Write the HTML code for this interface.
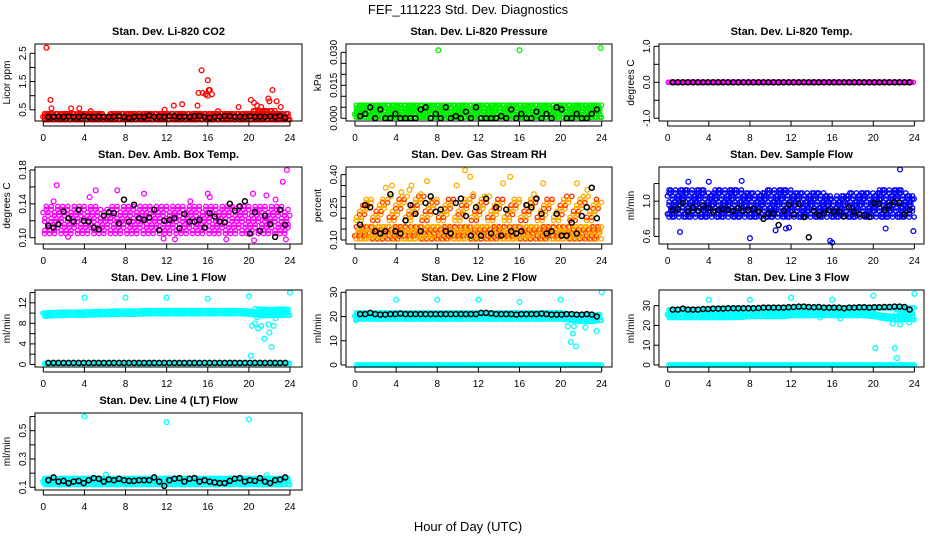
<!DOCTYPE html>
<html><head><meta charset="utf-8">
<style>
body{margin:0;background:#fff;}
svg{display:block;font-family:"Liberation Sans",sans-serif;}
</style></head>
<body>
<svg id="chart" width="936" height="540" viewBox="0 0 936 540" xmlns="http://www.w3.org/2000/svg">
<text x="468" y="14" text-anchor="middle" font-size="13">FEF_111223  Std. Dev. Diagnostics</text>
<text x="468" y="531" text-anchor="middle" font-size="13">Hour of Day (UTC)</text>
</svg>
<script>
// ---- data arrays ----
const hours = [0,1,2,3,4,5,6,7,8,9,10,11,12,13,14,15,16,17,18,19,20,21,22,23,24];
const xTicks = [0,4,8,12,16,20,24];

const co2Lo = [0.15,0.15,0.15,0.15,0.15,0.15,0.15,0.15,0.15,0.15,0.15,0.15,0.15,0.15,0.15,0.15,0.15,0.15,0.15,0.15,0.15,0.15,0.15,0.15,0.15];
const co2Hi = [0.4,0.45,0.4,0.45,0.4,0.4,0.35,0.4,0.4,0.4,0.4,0.4,0.45,0.45,0.4,0.45,0.45,0.4,0.4,0.4,0.45,0.5,0.5,0.45,0.35];
const co2OutX = [0.3,0.7,0.8,2.7,3.5,4.6,12.7,13.5,15.0,15.1,15.5,15.4,15.8,16.0,16.0,16.2,16.4,16.1,19.0,20.2,20.5,20.8,21.2,21.9,22.0,22.3,22.7,23.1,17.0,11.8];
const co2OutY = [2.7,0.85,0.55,0.55,0.55,0.45,0.65,0.7,0.65,1.1,1.1,1.9,1.05,1.0,1.55,1.2,1.05,1.2,0.6,0.85,0.75,0.65,0.6,0.9,0.8,1.2,0.8,0.6,0.45,0.5];
const co2Black = [0.25,0.25,0.26,0.25,0.26,0.25,0.25,0.27,0.25,0.25,0.26,0.25,0.25,0.26,0.27,0.25,0.22,0.25,0.26,0.25,0.3,0.25,0.26,0.25,0.28,0.27,0.25,0.26,0.25,0.27,0.28,0.25,0.22,0.25,0.26,0.28,0.27,0.25,0.26,0.25,0.27,0.25,0.26,0.25,0.27,0.25,0.28,0.22];

const presLo = [0.0005,0.0005,0.0005,0.0005,0.0005,0.0005,0.0005,0.0005,0.0005,0.0005,0.0005,0.0005,0.0005,0.0005,0.0005,0.0005,0.0005,0.0005,0.0005,0.0005,0.0005,0.0005,0.0005,0.0005,0.0005];
const presHi = [0.0065,0.007,0.0068,0.0072,0.007,0.0068,0.0068,0.007,0.0072,0.0068,0.0068,0.007,0.007,0.0068,0.0068,0.0068,0.0068,0.0066,0.0068,0.007,0.0068,0.0068,0.0066,0.0066,0.006];
const presOutX = [8.1,16.0,23.9];
const presOutY = [0.031,0.031,0.032];
const presBlack = [0.001,0.002,0.005,0.0,0.004,0.0,0.0,0.002,0.0,0.0,0.0,0.0,0.004,0.005,0.0,0.002,0.0,0.005,0.0,0.001,0.0,0.003,0.0,0.005,0.0,0.0,0.0,0.0,0.001,0.0,0.004,0.0,0.002,0.0,0.0,0.003,0.0,0.002,0.0,0.005,0.004,0.0,0.0,0.002,0.0,0.0,0.002,0.004];

const tempLo = hours.map(()=>0);
const tempHi = hours.map(()=>0);
const tempBlack = [0,0,0,0,0,0,0,0,0,0,0,0,0,0,0,0,0,0,0,0,0,0,0,0,0,0,0,0,0,0,0,0,0,0,0,0,0,0,0,0,0,0,0,0,0,0,0,0];

const boxLo = [0.105,0.105,0.105,0.105,0.105,0.105,0.105,0.105,0.105,0.105,0.105,0.105,0.105,0.105,0.105,0.105,0.105,0.105,0.105,0.105,0.105,0.105,0.105,0.105,0.105];
const boxHi = [0.135,0.14,0.14,0.14,0.14,0.14,0.135,0.14,0.14,0.14,0.138,0.14,0.14,0.14,0.14,0.138,0.14,0.138,0.14,0.14,0.14,0.14,0.138,0.14,0.135];
const boxOutX = [1.3,5.1,7.2,9.8,16.0,20.4,23.3,23.7,21.7,22.6,17.8,12.8,11.7,20.5,23.6,2.4,14.3,1.0,4.5,16.2];
const boxOutY = [0.162,0.156,0.156,0.152,0.152,0.152,0.166,0.180,0.150,0.145,0.098,0.098,0.099,0.097,0.098,0.101,0.143,0.143,0.148,0.148];
const boxBlack = [0.114,0.112,0.116,0.131,0.123,0.119,0.133,0.120,0.119,0.112,0.110,0.126,0.130,0.129,0.117,0.145,0.119,0.139,0.123,0.121,0.124,0.133,0.109,0.120,0.121,0.123,0.111,0.128,0.119,0.119,0.121,0.112,0.129,0.125,0.119,0.118,0.140,0.132,0.137,0.143,0.105,0.130,0.108,0.126,0.116,0.101,0.133,0.115];

const rhLo = [0.105,0.105,0.105,0.105,0.105,0.105,0.105,0.105,0.105,0.105,0.105,0.105,0.105,0.105,0.105,0.105,0.105,0.105,0.105,0.105,0.105,0.105,0.105,0.105,0.105];
const rhHi = [0.16,0.16,0.16,0.16,0.16,0.16,0.16,0.16,0.16,0.16,0.16,0.16,0.16,0.16,0.16,0.16,0.16,0.16,0.16,0.16,0.16,0.16,0.16,0.16,0.16];
const rhUpLo = [0.19,0.19,0.19,0.19,0.19,0.19,0.19,0.19,0.19,0.19,0.19,0.19,0.19,0.19,0.19,0.19,0.19,0.19,0.19,0.19,0.19,0.19,0.19,0.19,0.19];
const rhUpHi = [0.28,0.29,0.29,0.3,0.3,0.31,0.3,0.3,0.29,0.3,0.29,0.3,0.3,0.3,0.3,0.29,0.29,0.29,0.3,0.29,0.3,0.3,0.3,0.3,0.28];
const rhOutX = [3.0,3.6,5.3,5.5,6.4,7.0,9.9,10.7,11.2,11.5,14.4,15.1,17.4,18.3,21.6,22.6,23.0,4.5];
const rhOutY = [0.34,0.35,0.33,0.35,0.31,0.37,0.35,0.42,0.39,0.31,0.36,0.39,0.31,0.36,0.36,0.33,0.34,0.32];
const rhBlack = [0.17,0.26,0.25,0.14,0.13,0.14,0.31,0.14,0.13,0.19,0.26,0.22,0.14,0.27,0.30,0.23,0.24,0.14,0.13,0.27,0.29,0.21,0.12,0.25,0.12,0.29,0.13,0.25,0.12,0.24,0.14,0.13,0.14,0.26,0.25,0.29,0.22,0.13,0.14,0.22,0.12,0.12,0.18,0.13,0.21,0.25,0.34,0.20];

const flowLo = [0.82,0.82,0.82,0.82,0.82,0.82,0.82,0.82,0.82,0.82,0.82,0.82,0.82,0.82,0.82,0.82,0.82,0.82,0.82,0.82,0.82,0.82,0.82,0.82,0.82];
const flowHi = [1.12,1.15,1.14,1.15,1.12,1.13,1.14,1.15,1.10,1.12,1.13,1.14,1.15,1.10,1.12,1.12,1.05,1.08,1.10,1.12,1.10,1.14,1.14,1.13,1.05];
const flowOutX = [1.2,8.0,10.5,11.5,11.8,15.8,16.0,21.2,23.9,22.6,2.0,4.0,7.2];
const flowOutY = [0.65,0.58,0.67,0.69,0.70,0.55,0.53,0.69,0.66,1.36,1.22,1.22,1.23];
const flowBlack = [0.90,0.91,0.98,0.88,0.93,0.89,0.95,0.92,0.88,0.90,0.91,0.90,0.89,0.92,0.89,0.90,0.91,0.88,0.80,0.86,0.86,0.73,0.89,0.96,0.85,0.97,0.82,0.59,0.89,0.84,0.86,0.90,0.88,0.88,0.83,0.93,0.88,0.85,0.84,0.82,0.98,0.97,0.90,0.95,0.99,0.98,0.85,0.90];

const l1Lo = [9.4,9.5,9.6,9.6,9.6,9.7,9.7,9.8,9.8,9.8,9.9,9.9,9.9,9.9,9.9,9.9,9.9,9.9,9.9,9.9,9.8,9.6,9.5,9.6,9.6];
const l1Hi = [10.2,10.3,10.4,10.5,10.5,10.6,10.6,10.7,10.7,10.7,10.8,10.8,10.8,10.8,10.8,10.8,10.8,10.8,10.8,10.8,10.9,10.8,10.8,10.9,10.7];
const l1OutX = [4,8,12,16,20,24,20.3,20.6,20.9,21.2,21.5,21.9,22.0,22.2,22.4,20.2,22.6,20.8,21.3];
const l1OutY = [13,13,13,12.8,13.3,14,7.5,8,7,7.5,5,7.8,6.2,3.4,7.5,1.7,9,9.2,9.5];
const l1Black = [0.3,0.3,0.3,0.3,0.3,0.3,0.3,0.3,0.3,0.3,0.3,0.3,0.3,0.3,0.3,0.3,0.3,0.3,0.3,0.3,0.3,0.3,0.3,0.3,0.3,0.3,0.3,0.3,0.3,0.3,0.3,0.3,0.3,0.3,0.3,0.3,0.3,0.3,0.3,0.3,0.3,0.3,0.3,0.3,0.3,0.3,0.3,0.3];
const l1ZeroLo = hours.map(()=>0.2);
const l1ZeroHi = hours.map(()=>0.5);

const l2Lo = [19.0,19.0,19.0,19.0,19.0,19.0,19.0,19.0,19.0,19.0,19.0,19.0,19.0,19.0,19.0,19.0,19.0,19.0,19.0,19.0,19.0,18.5,18.0,18.0,18.5];
const l2Hi = [21.5,21.8,21.8,21.8,21.8,21.8,21.8,21.8,21.8,21.8,21.8,21.8,22.0,22.0,22.0,21.8,21.8,21.8,21.8,21.8,21.8,21.5,21.5,21.5,21.5];
const l2OutX = [4,8,12,16,20,24,20.7,21.0,21.2,21.3,21.5,22.4,23.5,0.1];
const l2OutY = [27,27,27,26,27,30,16,9.5,13,16,7.7,15.5,14,18.5];
const l2Black = [21,21,21.5,21,20.8,20.8,21,21,21.2,21,21,21,21,21,21,21,21,21,21,21,21,21,21,21,21.5,21.5,21.3,21,21,21,21,20.8,21,21,21,21,21.2,21,20.8,20.8,20.8,21,21,20.8,20.8,21,20.8,20];
const zeroLo = hours.map(()=>0.0);
const zeroHi = hours.map(()=>0.8);

const l3Lo = [24,24,24,24,24,24,24,24.2,24.5,24.5,24.5,24.5,25,25,25,25,25,25,25,25,24.5,23.5,23,23,23];
const l3Hi = [25.5,25.6,25.6,25.6,25.8,25.8,25.8,26,26,26,26.2,26.2,26.5,26.5,26.5,26.5,26.5,26.5,26.5,26.5,26,25.5,26,27,27];
const l3UpLo = [27.8,28,28,28,28.2,28.2,28.2,28.4,28.4,28.4,28.6,28.6,28.8,28.8,28.8,28.8,28.8,28.8,28.8,28.8,28.8,28.8,28.8,28.8,28.8];
const l3UpHi = [29.2,29.4,29.4,29.4,29.6,29.6,29.6,29.8,29.8,29.8,30,30,30.2,30.2,30.2,30.2,30.2,30.2,30.2,30.2,30.2,30.2,30.2,30.2,30.2];
const l3OutX = [4,8,12,16,20,24,20.2,22.1,22.3,21.9,22.6,23.5,16.8,14.8];
const l3OutY = [33,33,34,33,35,36,8.5,8.5,3.5,21,20.5,21.5,23.5,24];
const l3Black = [28,28,28.5,28,28,28,28.3,28.3,28.5,28.5,28.5,28.7,28.7,28.7,28.7,28.7,28.7,28.8,29,29,29,29,29,29.2,29.3,29.5,29.5,29.3,29.2,29.3,29,29,29,29,28.7,29,29,29.2,29.2,29,29.2,29.2,29.3,29.3,29.5,29.5,29.3,28];

const l4Lo = [0.12,0.12,0.12,0.12,0.12,0.12,0.12,0.12,0.12,0.12,0.12,0.12,0.12,0.12,0.12,0.12,0.12,0.12,0.12,0.12,0.12,0.12,0.12,0.12,0.12];
const l4Hi = [0.17,0.175,0.175,0.175,0.175,0.18,0.18,0.175,0.175,0.175,0.175,0.18,0.175,0.175,0.175,0.175,0.175,0.175,0.175,0.175,0.175,0.175,0.175,0.175,0.175];
const l4OutX = [4,12,20,6.1,21.7];
const l4OutY = [0.6,0.56,0.58,0.19,0.185];
const l4Black = [0.15,0.17,0.14,0.145,0.13,0.14,0.145,0.13,0.15,0.165,0.16,0.14,0.155,0.15,0.16,0.15,0.145,0.145,0.15,0.15,0.15,0.17,0.14,0.11,0.15,0.16,0.165,0.14,0.16,0.165,0.14,0.15,0.14,0.135,0.13,0.13,0.145,0.16,0.165,0.14,0.15,0.145,0.165,0.14,0.13,0.15,0.155,0.17];

// ---- layout ----
const colL=[35,346,659], colR=[302,612,924], rowT=[44,167,290,413], rowB=[121,244,367,490];
const x0=[43.3,355,667.7], xs=246.7/24;
const NS="http://www.w3.org/2000/svg";
const svg=document.getElementById('chart');
function mk(tag,attrs,parent){const e=document.createElementNS(NS,tag);for(const k in attrs)e.setAttribute(k,attrs[k]);(parent||svg).appendChild(e);return e;}
function interp(arr,h){const i=Math.min(23,Math.floor(h));const f=h-i;return arr[i]*(1-f)+arr[i+1]*f;}

const panels=[
 {c:0,r:0,name:'co2',title:'Stan. Dev. Li-820 CO2',yl:'Licor ppm',ymin:0.104,ymax:2.83,ticks:[0.5,1,1.5,2,2.5],labels:['0.5','1.5','2.5'],col:'#ff0000',
  bands:[[co2Lo,co2Hi,0.8]],ox:co2OutX,oy:co2OutY,black:co2Black},
 {c:1,r:0,name:'pressure',title:'Stan. Dev. Li-820 Pressure',yl:'kPa',ymin:-0.00125,ymax:0.0338,ticks:[0,0.005,0.01,0.015,0.02,0.025,0.03],labels:['0.000','0.015','0.030'],col:'#00ee00',
  bands:[[presLo,presHi,0.8]],ox:presOutX,oy:presOutY,black:presBlack},
 {c:2,r:0,name:'temp',title:'Stan. Dev. Li-820 Temp.',yl:'degrees C',ymin:-1.076,ymax:1.065,ticks:[-1,-0.5,0,0.5,1],labels:['-1.0','0.0','1.0'],col:'#ff00ff',
  bands:[[tempLo,tempHi,1]],ox:[],oy:[],black:tempBlack},
 {c:0,r:1,name:'box-temp',title:'Stan. Dev. Amb. Box Temp.',yl:'degrees C',ymin:0.0926,ymax:0.1835,ticks:[0.10,0.12,0.14,0.16,0.18],labels:['0.10','0.14','0.18'],col:'#ff00ff',
  bands:[[boxLo,boxHi,0.3]],ox:boxOutX,oy:boxOutY,black:boxBlack},
 {c:1,r:1,name:'gas-rh',title:'Stan. Dev. Gas Stream RH',yl:'percent',ymin:0.0816,ymax:0.435,ticks:[0.10,0.15,0.20,0.25,0.30,0.35,0.40],labels:['0.10','0.25','0.40'],col:'#ffaa00',
  bands:[[rhLo,rhHi,0.6],[rhUpLo,rhUpHi,0.2]],ox:rhOutX,oy:rhOutY,black:rhBlack},
 {c:2,r:1,name:'sample-flow',title:'Stan. Dev. Sample Flow',yl:'ml/min',ymin:0.514,ymax:1.388,ticks:[0.6,0.8,1.0,1.2],labels:['0.6','1.0'],col:'#0000ff',
  bands:[[flowLo,flowHi,0.45]],ox:flowOutX,oy:flowOutY,black:flowBlack},
 {c:0,r:2,name:'line1',title:'Stan. Dev. Line 1 Flow',yl:'ml/min',ymin:-0.5,ymax:14.5,ticks:[0,2,4,6,8,10,12,14],labels:['0','4','8','12'],col:'#00ffff',
  bands:[[l1Lo,l1Hi,0.9],[l1ZeroLo,l1ZeroHi,1]],ox:l1OutX,oy:l1OutY,black:l1Black},
 {c:1,r:2,name:'line2',title:'Stan. Dev. Line 2 Flow',yl:'ml/min',ymin:-0.83,ymax:30.95,ticks:[0,10,20,30],labels:['0','10','20','30'],col:'#00ffff',
  bands:[[l2Lo,l2Hi,0.9],[zeroLo,zeroHi,1]],ox:l2OutX,oy:l2OutY,black:l2Black},
 {c:2,r:2,name:'line3',title:'Stan. Dev. Line 3 Flow',yl:'ml/min',ymin:-1,ymax:37.9,ticks:[0,10,20,30],labels:['0','10','20','30'],col:'#00ffff',
  bands:[[l3Lo,l3Hi,0.9],[l3UpLo,l3UpHi,0.9],[zeroLo,zeroHi,1]],ox:l3OutX,oy:l3OutY,black:l3Black},
 {c:0,r:3,name:'line4',title:'Stan. Dev. Line 4 (LT) Flow',yl:'ml/min',ymin:0.081,ymax:0.625,ticks:[0.1,0.2,0.3,0.4,0.5,0.6],labels:['0.1','0.3','0.5'],col:'#00ffff',
  bands:[[l4Lo,l4Hi,0.9]],ox:l4OutX,oy:l4OutY,black:l4Black}
];

panels.forEach(p=>{
  const L=colL[p.c],R=colR[p.c],T=rowT[p.r],B=rowB[p.r];
  const xpx=h=>x0[p.c]+h*xs;
  const ypx=v=>B-(v-p.ymin)/(p.ymax-p.ymin)*(B-T);
  const g=mk('g',{});
  
  
  const t=mk('text',{x:(L+R)/2,y:T-9,'text-anchor':'middle','font-size':11,'font-weight':'bold'},g);
  t.textContent=p.title;
  
  
  const yl=mk('text',{transform:`translate(${L-25},${(T+B)/2}) rotate(-90)`,'text-anchor':'middle','font-size':10},g);
  yl.textContent=p.yl;
  
  
  const pts=mk('g',{fill:'none','stroke-width':1.3},g);
  
  
  p.bands.forEach(([lo,hi,dens])=>{
    let i=0;
    for(let h=0.05;h<=23.95;h+=0.16){
      i++;
      const y1=ypx(interp(lo,h)), y2=ypx(interp(hi,h));
      if(y1-y2<1){
        const c=mk('circle',{cx:xpx(h).toFixed(1),cy:y1.toFixed(1),r:2.2,stroke:p.col},pts);
        
        
        continue;
      }
      let j=0;
      for(let y=y1;y>=y2-0.1;y-=3){
        j++;
        if(dens<1 && ((i*7+j*13)%10)/10>=dens) continue;
        const c=mk('circle',{cx:(xpx(h)+((j%2)?0.8:-0.8)).toFixed(1),cy:y.toFixed(1),r:2.2,stroke:p.col},pts);
        
        
        if(p.name==='gas-rh' && (i+j)%3===0) c.setAttribute('stroke','#ff3300');
      }
    }
  });
  p.ox.forEach((h,k)=>{
    const c=mk('circle',{cx:xpx(h).toFixed(1),cy:ypx(p.oy[k]).toFixed(1),r:2.4,stroke:p.col},pts);
    
    
  });
  p.black.forEach((v,k)=>{
    const c=mk('circle',{cx:xpx(0.5+k*0.49).toFixed(1),cy:ypx(v).toFixed(1),r:2.5,stroke:'#000','stroke-width':1.5},pts);
    
    
  });
  const bx=mk('rect',{x:L,y:T,width:R-L,height:B-T,fill:'none',stroke:'#000','stroke-width':1},g);
  
  
  xTicks.forEach(v=>{
    const x=xpx(v);
    mk('line',{x1:x,y1:B,x2:x,y2:B+5,stroke:'#000'},g);
    const tl=mk('text',{x:x,y:B+20,'text-anchor':'middle','font-size':10},g);
    tl.textContent=v;
    
    
  });
  mk('line',{x1:xpx(0),y1:B+5,x2:xpx(24),y2:B+5,stroke:'#000'},g);
  p.ticks.forEach(v=>{
    const y=ypx(v);
    mk('line',{x1:L-5,y1:y,x2:L,y2:y,stroke:'#000'},g);
  });
  mk('line',{x1:L-5,y1:ypx(p.ticks[0]),x2:L-5,y2:ypx(p.ticks[p.ticks.length-1]),stroke:'#000'},g);
  p.labels.forEach(s=>{
    const y=ypx(parseFloat(s));
    const tl=mk('text',{transform:`translate(${L-9},${y}) rotate(-90)`,'text-anchor':'middle','font-size':10},g);
    tl.textContent=s;
    
    
  });
});
</script>
</body></html>
